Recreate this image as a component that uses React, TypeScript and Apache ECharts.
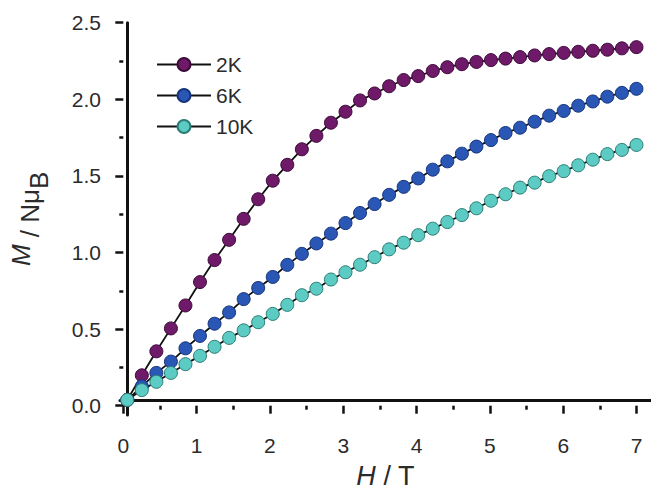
import React, { useEffect, useRef } from "react";
import * as echarts from "echarts";

const fieldH: number[] = [
  0, 0.2, 0.4, 0.6, 0.8, 1.0, 1.2, 1.4, 1.6, 1.8, 2.0, 2.2, 2.4, 2.6, 2.8, 3.0, 3.2, 3.4,
  3.6, 3.8, 4.0, 4.2, 4.4, 4.6, 4.8, 5.0, 5.2, 5.4, 5.6, 5.8, 6.0, 6.2, 6.4, 6.6, 6.8, 7.0,
];

const m2K: number[] = [
  0, 0.163, 0.322, 0.474, 0.626, 0.781, 0.927, 1.061, 1.2, 1.33, 1.453, 1.558, 1.661, 1.75,
  1.837, 1.91, 1.985, 2.031, 2.079, 2.12, 2.146, 2.18, 2.205, 2.225, 2.24, 2.252, 2.262, 2.272,
  2.283, 2.292, 2.3, 2.307, 2.314, 2.321, 2.33, 2.338,
];

const m6K: number[] = [
  0, 0.09, 0.179, 0.254, 0.342, 0.424, 0.505, 0.58, 0.668, 0.742, 0.815, 0.895, 0.968, 1.037,
  1.102, 1.172, 1.239, 1.298, 1.359, 1.412, 1.468, 1.526, 1.581, 1.632, 1.679, 1.722, 1.769,
  1.804, 1.844, 1.884, 1.915, 1.95, 1.978, 2.01, 2.035, 2.062,
];

const m10K: number[] = [
  0, 0.065, 0.12, 0.179, 0.237, 0.292, 0.352, 0.411, 0.461, 0.515, 0.57, 0.63, 0.694, 0.737,
  0.798, 0.846, 0.896, 0.946, 0.998, 1.042, 1.092, 1.135, 1.179, 1.225, 1.27, 1.32, 1.363,
  1.407, 1.44, 1.483, 1.516, 1.555, 1.592, 1.629, 1.657, 1.69,
];

const seriesNames: string[] = ["2K", "6K", "10K"];
const seriesFill: string[] = ["#6f1a69", "#2a56b6", "#5ccbc3"];
const seriesBorder: string[] = ["#3d0a3a", "#17357a", "#2b7d76"];

const FONT = "'Liberation Sans', Arial, Helvetica, sans-serif";
const TEXT = "#2b2b2b";

export default function App() {
  const ref = useRef<HTMLDivElement>(null);

  useEffect(() => {
    if (!ref.current) return;
    const chart = echarts.init(ref.current, null, { renderer: "svg" });
    const allData = [m2K, m6K, m10K];

    const option: any = {
      animation: false,
      backgroundColor: "#ffffff",
      textStyle: { fontFamily: FONT },
      legend: {
        data: seriesNames,
        orient: "vertical",
        left: 151,
        top: 49,
        itemWidth: 54,
        itemHeight: 16,
        itemGap: 10,
        textStyle: { fontSize: 21, color: TEXT, fontFamily: FONT },
      },
      grid: [
        { left: 116, right: 0, top: 22.7, bottom: 72.3 },
        { left: 123.3, right: 14.4, top: 22.7, bottom: 88.3 },
      ],
      xAxis: [
        {
          type: "value",
          gridIndex: 0,
          min: -0.1,
          max: 7.2,
          axisLine: { show: true, lineStyle: { color: "#111", width: 3 } },
          axisTick: { show: false },
          axisLabel: { show: false },
          splitLine: { show: false },
          name: "{i|H} / T",
          nameLocation: "middle",
          nameGap: 47,
          nameTextStyle: {
            fontSize: 27,
            color: TEXT,
            fontFamily: FONT,
            rich: {
              i: { fontSize: 27, fontStyle: "italic", color: TEXT, fontFamily: FONT },
            },
          },
        },
        {
          type: "value",
          gridIndex: 1,
          min: 0,
          max: 7,
          interval: 1,
          offset: 16,
          axisLine: { show: false },
          axisTick: { show: true, length: 8, lineStyle: { color: "#111", width: 2.5 } },
          minorTick: { show: true, splitNumber: 2, length: 4, lineStyle: { color: "#111", width: 2.5 } },
          axisLabel: { fontSize: 21, color: TEXT, margin: 13, fontFamily: FONT },
          splitLine: { show: false },
        },
      ],
      yAxis: [
        {
          type: "value",
          gridIndex: 0,
          min: -0.1,
          max: 2.5,
          axisLine: { show: true, lineStyle: { color: "#111", width: 3 } },
          axisTick: { show: false },
          axisLabel: { show: false },
          splitLine: { show: false },
          name: "{i|M} / Nμ{sub|B}",
          nameLocation: "middle",
          nameRotate: 90,
          nameGap: 68,
          nameTextStyle: {
            fontSize: 26,
            color: TEXT,
            fontFamily: FONT,
            rich: {
              i: { fontSize: 26, fontStyle: "italic", color: TEXT, fontFamily: FONT, lineHeight: 27, verticalAlign: "top" },
              sub: { fontSize: 26, color: TEXT, fontFamily: FONT, lineHeight: 44, verticalAlign: "bottom" },
            },
          },
        },
        {
          type: "value",
          gridIndex: 1,
          min: 0,
          max: 2.5,
          interval: 0.5,
          offset: 7.3,
          axisLine: { show: false },
          axisTick: { show: true, length: 8, lineStyle: { color: "#111", width: 2.5 } },
          minorTick: { show: true, splitNumber: 2, length: 4, lineStyle: { color: "#111", width: 2.5 } },
          axisLabel: {
            fontSize: 21,
            color: TEXT,
            margin: 15,
            fontFamily: FONT,
            formatter: (v: number) => v.toFixed(1),
          },
          splitLine: { show: false },
        },
      ],
      series: seriesNames.map((name, k) => ({
        name,
        type: "line",
        xAxisIndex: 0,
        yAxisIndex: 0,
        data: fieldH.map((h, i) => [h, allData[k][i]]),
        symbol: "circle",
        symbolSize: 13,
        showAllSymbol: true,
        clip: false,
        lineStyle: { color: "#111", width: 1.8 },
        itemStyle: { color: seriesFill[k], borderColor: seriesBorder[k], borderWidth: 1 },
        emphasis: { disabled: true },
      })),
    };

    chart.setOption(option);
    return () => chart.dispose();
  }, []);

  return (
    <div
      ref={ref}
      style={{ position: "absolute", left: 0, top: 0, width: 651, height: 494 }}
    />
  );
}
